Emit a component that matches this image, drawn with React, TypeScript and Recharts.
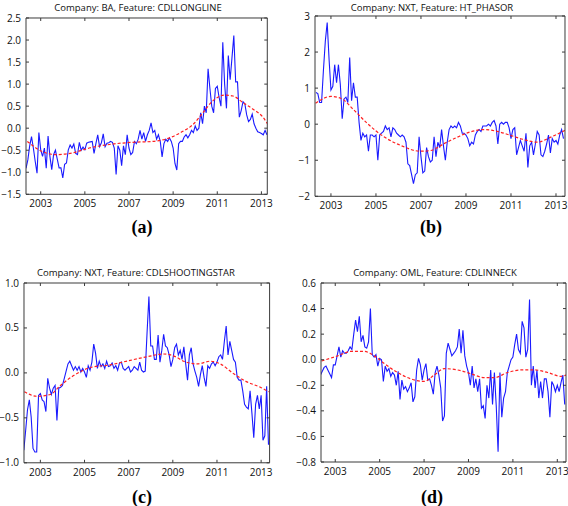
import React from "react";
import { LineChart, Line, XAxis, YAxis } from "recharts";

// x values are months counted from Jan 2002 (12 = Jan 2003)
const yearTicks = [12, 36, 60, 84, 108, 132];

// (a) BA, CDLLONGLINE — monthly, starting at month 4
const blueA = [
  -0.91, -0.72, -0.4, -0.19, -0.45, -0.75, -1.02, -0.1, -0.49, -0.64, -0.45, -0.91, -0.18, -0.64, -0.94, -0.6,
  -0.5, -0.7, -0.9, -0.9, -1.13, -0.82, -0.79, -0.49, -0.38, -0.45, -0.36, -0.57, -0.6, -0.32, -0.5, -0.43,
  -0.49, -0.34, -0.32, -0.31, -0.3, -0.57, -0.35, -0.15, -0.42, -0.33, -0.13, -0.42, -0.34, -0.33,
  -0.3, -0.32, -0.45, -1.05, -0.4, -0.5, -0.85, -0.4, -0.6, -0.15, -0.45, -0.6, -0.55, -0.3, -0.35, -0.25,
  -0.05, -0.25, -0.1, -0.3, -0.15, -0.05, 0.12, -0.1, -0.05, -0.25, -0.15, -0.3, -0.65, -0.35, -0.25, -0.3,
  -0.22, -0.3, -0.45, -0.8, -0.95, -0.35, -0.3, -0.3, -0.2, -0.15, -0.22, -0.15, -0.05, -0.1, 0.05, -0.05,
  0.0, 0.35, 0.1, 0.5, 0.35, 1.35, 0.9, 0.5, 0.35, 0.9, 0.95, 0.7, 0.5, 1.95, 1.0, 0.45,
  1.65, 1.1, 1.6, 2.1, 1.05, 1.05, 0.25, 0.4, 0.6, 0.55, 0.3, 0.15, 0.2, 0.32, 0.1, 0.0,
  -0.08, -0.1, -0.12, -0.15, -0.05, -0.15,
];
const trendMonthsA = [4.7, 12.9, 20.2, 29.3, 38.4, 49.3, 62, 72.9, 82, 89.3, 94.7, 100.2, 105.6, 112, 116.5, 122, 127.5, 133, 135.6];
const trendA = [-0.3, -0.53, -0.6, -0.56, -0.45, -0.37, -0.32, -0.3, -0.22, -0.07, 0.08, 0.35, 0.62, 0.75, 0.73, 0.58, 0.43, 0.24, 0.08];

// (b) NXT, HT_PHASOR — monthly, starting at month 4
const blueB = [
  0.88, 0.85, 0.6, 0.6, 1.5, 2.3, 2.82, 1.8, 0.95, 1.05, 1.65, 1.15, 1.65, 1.1, 0.15, 0.7,
  0.75, 0.6, 1.85, 0.65, 1.15, 0.75, 0.75, 0.05, -0.45, -0.25, -0.35, -0.3, -0.75, -0.3, -0.3, -0.35,
  -0.3, -1.0, -0.3, -0.25, -0.2, -0.05, -0.15, -0.1, -0.35, -0.1, -0.15, -0.25, -0.3, -0.35, -0.3, -0.35,
  -0.5, -1.1, -1.15, -1.4, -1.65, -1.4, -1.35, -0.35, -0.9, -1.35, -1.3, -0.65, -0.9, -1.05, -1.0, -0.35,
  -0.9, -0.5, -0.65, -0.15, -0.6, -1.0, -0.5, -0.15, -0.05, -0.1, -0.05, -0.1, 0.05, -0.05, -0.25, -0.25,
  -0.3, -0.4, -0.6, -0.5, -0.55, -0.3, -0.2, -0.15, -0.2, -0.05, -0.05, -0.05, 0.0, -0.05, 0.05, 0.1,
  -0.05, -0.55, 0.0, 0.05, 0.0, 0.05, 0.05, -0.1, -0.4, -0.15, -0.1, -0.85, -0.65, -0.45, -0.6, -0.75,
  -0.25, -1.2, -0.6, -0.5, -0.85, -0.55, -0.2, -0.3, -0.85, -0.9, -0.75, -0.55, -0.3, -0.8, -0.4, -0.5,
  -0.45, -0.55, -0.3, -0.15, -0.4,
];
const trendMonthsB = [3.8, 12, 17.2, 24.3, 31.4, 40.3, 49.2, 59.8, 65.2, 72.3, 79.4, 86.5, 93.6, 100.7, 107.8, 114.9, 122, 129.2, 136.8];
const trendB = [0.58, 0.77, 0.72, 0.39, 0.02, -0.35, -0.59, -0.75, -0.73, -0.54, -0.36, -0.21, -0.15, -0.2, -0.31, -0.43, -0.5, -0.36, -0.17];

// (c) NXT, CDLSHOOTINGSTAR — monthly, starting at month 3
const blueC = [
  -0.86, -0.64, -0.41, -0.3, -0.49, -0.84, -0.88, -0.88, -0.25, -0.23, -0.3, -0.32, -0.43, -0.06, -0.17, -0.24,
  -0.17, -0.14, -0.53, -0.17, -0.16, -0.14, -0.06, 0.02, 0.1, 0.13, 0.08, 0.03, 0.07, 0.03, 0.07, 0.01,
  0.05, 0.01, -0.05, 0.08, 0.03, 0.12, 0.32, 0.22, 0.05, 0.13, 0.07, 0.1, 0.05, 0.13, 0.07, 0.08,
  0.11, 0.05, 0.08, 0.03, 0.11, 0.12, 0.05, 0.03, 0.05, 0.07, 0.01, 0.03, 0.07, 0.05, 0.03, 0.12,
  0.03, 0.01, 0.02, 0.45, 0.85, 0.3, 0.3, 0.15, 0.15, 0.42, 0.12, 0.25, 0.43, 0.3, 0.28, 0.2,
  0.07, 0.15, 0.28, 0.32, 0.2, 0.25, 0.15, 0.29, 0.1, -0.08, 0.2, 0.28, 0.1, 0.02, -0.05, -0.15,
  -0.02, 0.08, -0.05, -0.15, 0.08, 0.05, 0.1, 0.12, 0.08, 0.12, 0.18, 0.2, 0.15, 0.35, 0.52, 0.2,
  0.35, 0.25, 0.15, 0.12, -0.05, -0.08, -0.08, -0.2, -0.35, -0.38, -0.4, -0.2, -0.45, -0.72, -0.35, -0.25,
  -0.4, -0.25, -0.75, -0.7, -0.15, -0.8,
];
const trendMonthsC = [3.3, 10.2, 17.4, 22.9, 30.1, 39.2, 50, 60.9, 70, 79, 84.4, 89.9, 97.2, 104.4, 109.8, 117.1, 124.3, 131.6, 136.1];
const trendC = [-0.21, -0.26, -0.24, -0.14, -0.03, 0.06, 0.09, 0.14, 0.18, 0.21, 0.19, 0.13, 0.1, 0.13, 0.1, -0.01, -0.1, -0.16, -0.21];

// (d) OML, CDLINNECK — monthly, starting at month 4
const blueD = [
  -0.12, -0.09, -0.06, -0.05, -0.08, -0.11, -0.14, -0.04, -0.04, 0.03, 0.1, 0.02, 0.07, 0.05, 0.05, 0.07,
  0.1, 0.08, 0.2, 0.31, 0.22, 0.34, 0.14, 0.19, 0.1, 0.09, 0.14, 0.4, 0.04, 0.02, 0.04, -0.05,
  0.01, 0.0, -0.17, -0.05, -0.09, -0.07, -0.13, -0.1, -0.12, -0.2, -0.09, -0.31, -0.16, -0.23, -0.21, -0.25,
  -0.22, -0.18, -0.33, -0.29, -0.08, 0.01, -0.04, -0.16, -0.08, -0.03, -0.16, -0.15, -0.2, -0.27, -0.1, -0.05,
  -0.12, -0.22, -0.48, -0.44, 0.05, 0.13, 0.08, 0.03, 0.05, 0.07, 0.1, 0.24, 0.05, 0.23, 0.03, -0.05,
  -0.1, -0.2, -0.05, -0.22, -0.15, -0.25, -0.15, -0.38, -0.36, -0.46, -0.2, -0.3, -0.08, -0.35, -0.1, -0.36,
  -0.72, -0.1, -0.45, -0.3, -0.25, -0.1, -0.05, 0.0, 0.02, 0.12, 0.2, 0.08, 0.05, 0.3, 0.25, 0.02,
  0.08, 0.47, -0.2, -0.05, -0.22, -0.08, -0.3, -0.17, -0.3, -0.15, -0.15, -0.25, -0.45, -0.17, -0.2, -0.25,
  -0.2, -0.25, -0.18, -0.12, -0.35,
];
const trendMonthsD = [4.6, 13.3, 20.5, 27.7, 33.1, 38.5, 45.7, 52.9, 60.1, 65.5, 70.9, 78.1, 85.4, 92.5, 98, 105.2, 112.4, 119.6, 126.8, 134, 136.9];
const trendD = [-0.01, 0.03, 0.065, 0.065, 0.03, -0.03, -0.1, -0.15, -0.17, -0.12, -0.07, -0.08, -0.11, -0.14, -0.14, -0.1, -0.08, -0.08, -0.1, -0.13, -0.12];

const ticksA = [2.5, 2, 1.5, 1, 0.5, 0, -0.5, -1, -1.5];
const ticksB = [3, 2, 1, 0, -1, -2];
const ticksC = [1, 0.5, 0, -0.5, -1];
const ticksD = [0.6, 0.4, 0.2, 0, -0.2, -0.4, -0.6, -0.8];

const FONT = "'Open Sans', 'Noto Sans', sans-serif";
const FRAME = "#3a3a3a";

const fmt1 = (v: number) => v.toFixed(1).replace("-", "\u2212");
const fmt0 = (v: number) => v.toFixed(0).replace("-", "\u2212");
const yearFmt = (m: number) => String(2002 + m / 12);
const noLabel = () => <g />;

interface PanelProps {
  box: [number, number, number, number]; // plot area x0, y0, x1, y1
  xDomain: [number, number];
  yDomain: [number, number];
  yTicks: number[];
  yFmt: (v: number) => string;
  start: number;
  blue: number[];
  trendMonths: number[];
  trend: number[];
  title: string;
  titleX: number;
  titleY: number;
  caption: string;
  capX: number;
  capY: number;
}

function Panel(p: PanelProps) {
  const [x0, y0, x1, y1] = p.box;
  const blueData = p.blue.map((v, i) => ({ m: p.start + i, v }));
  const trendData = p.trendMonths.map((m, i) => ({ m, v: p.trend[i] }));
  const padL = 40;
  const padT = 10;
  const padR = 10;
  const axisH = 25;
  const tickStyle = { fontSize: 10, fill: "#111", fontFamily: FONT };
  return (
    <>
      <div
        style={{
          position: "absolute",
          left: p.titleX,
          top: p.titleY,
          transform: "translate(-50%, -50%)",
          whiteSpace: "nowrap",
          fontFamily: FONT,
          fontSize: 9.5,
          color: "#111",
          zIndex: 1,
        }}
      >
        {p.title}
      </div>
      <div style={{ position: "absolute", left: x0 - padL, top: y0 - padT }}>
        <LineChart
          width={x1 - x0 + padL + padR}
          height={y1 - y0 + padT + axisH}
          margin={{ top: padT, right: padR, bottom: 0, left: 0 }}
        >
          <XAxis
            dataKey="m"
            type="number"
            domain={p.xDomain}
            allowDataOverflow
            ticks={yearTicks}
            interval={0}
            tickFormatter={yearFmt}
            height={axisH}
            stroke={FRAME}
            tickSize={-3}
            tickMargin={9}
            tick={tickStyle}
          />
          {/* top and right axes close the frame and carry the inner ticks */}
          <XAxis
            xAxisId="top"
            dataKey="m"
            orientation="top"
            mirror
            type="number"
            domain={p.xDomain}
            allowDataOverflow
            ticks={yearTicks}
            interval={0}
            stroke={FRAME}
            tickSize={3}
            tick={noLabel}
          />
          <YAxis
            type="number"
            domain={p.yDomain}
            allowDataOverflow
            ticks={p.yTicks}
            interval={0}
            tickFormatter={p.yFmt}
            width={padL}
            stroke={FRAME}
            tickSize={-3}
            tickMargin={8}
            tick={tickStyle}
          />
          <YAxis
            yAxisId="right"
            orientation="right"
            mirror
            type="number"
            domain={p.yDomain}
            allowDataOverflow
            ticks={p.yTicks}
            interval={0}
            stroke={FRAME}
            tickSize={3}
            tick={noLabel}
          />
          <Line
            data={blueData}
            dataKey="v"
            type="linear"
            stroke="#1a1aff"
            strokeWidth={1.1}
            dot={false}
            isAnimationActive={false}
          />
          <Line
            xAxisId="top"
            yAxisId="right"
            data={trendData}
            dataKey="v"
            type="monotone"
            stroke="#ff2020"
            strokeWidth={1.2}
            strokeDasharray="3 2"
            dot={false}
            isAnimationActive={false}
          />
        </LineChart>
      </div>
      <div
        style={{
          position: "absolute",
          left: p.capX,
          top: p.capY,
          transform: "translate(-50%, -50%)",
          fontFamily: "'Liberation Serif', 'DejaVu Serif', serif",
          fontWeight: "bold",
          fontSize: 18,
          color: "#000",
        }}
      >
        {p.caption}
      </div>
    </>
  );
}

export default function App() {
  return (
    <div
      style={{
        position: "absolute",
        left: 0,
        top: 0,
        width: 568,
        height: 506,
        background: "#fff",
        overflow: "hidden",
      }}
    >
      <Panel
        box={[26, 18, 267.3, 194.3]}
        xDomain={[4, 135.2]}
        yDomain={[-1.5, 2.5]}
        yTicks={ticksA}
        yFmt={fmt1}
        start={4}
        blue={blueA}
        trendMonths={trendMonthsA}
        trend={trendA}
        title="Company: BA, Feature: CDLLONGLINE"
        titleX={138}
        titleY={7}
        caption="(a)"
        capX={142}
        capY={227}
      />
      <Panel
        box={[315, 16, 565, 196.3]}
        xDomain={[3.5, 136.8]}
        yDomain={[-2, 3]}
        yTicks={ticksB}
        yFmt={fmt0}
        start={4}
        blue={blueB}
        trendMonths={trendMonthsB}
        trend={trendB}
        title="Company: NXT, Feature: HT_PHASOR"
        titleX={432}
        titleY={7}
        caption="(b)"
        capX={431}
        capY={227}
      />
      <Panel
        box={[23.7, 282.7, 269.3, 462.5]}
        xDomain={[3.1, 136.6]}
        yDomain={[-1, 1]}
        yTicks={ticksC}
        yFmt={fmt1}
        start={3}
        blue={blueC}
        trendMonths={trendMonthsC}
        trend={trendC}
        title="Company: NXT, Feature: CDLSHOOTINGSTAR"
        titleX={136}
        titleY={272}
        caption="(c)"
        capX={142}
        capY={497}
      />
      <Panel
        box={[320.7, 283.3, 565.7, 462.3]}
        xDomain={[4.3, 136.7]}
        yDomain={[-0.8, 0.6]}
        yTicks={ticksD}
        yFmt={fmt1}
        start={4}
        blue={blueD}
        trendMonths={trendMonthsD}
        trend={trendD}
        title="Company: OML, Feature: CDLINNECK"
        titleX={435}
        titleY={272}
        caption="(d)"
        capX={432}
        capY={497}
      />
    </div>
  );
}
